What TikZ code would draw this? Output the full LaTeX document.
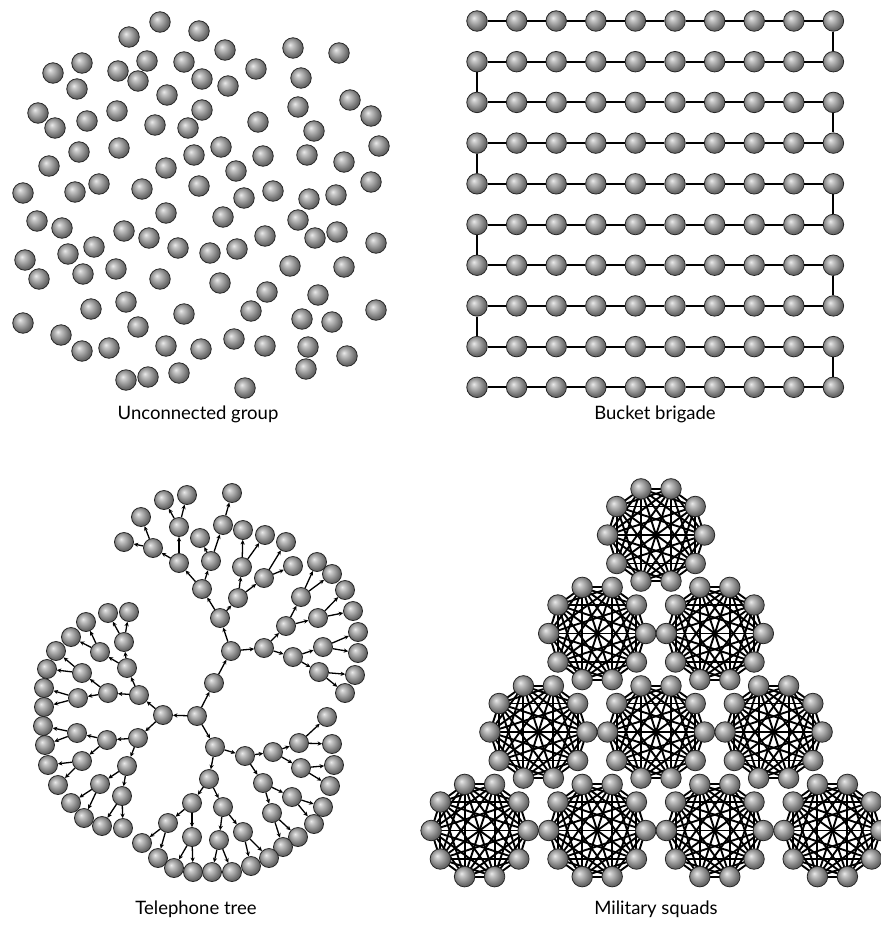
\documentclass[tikz,border=0pt]{standalone}
\usepackage{fontspec}
\setmainfont{Lato}
\usepackage{tikz}
\usetikzlibrary{arrows.meta, backgrounds}

\pgfdeclareradialshading{sphere}{\pgfpoint{-8bp}{8bp}}{%
    color(0bp)=(black!8); color(6bp)=(black!22); color(15bp)=(black!40);
    color(25bp)=(black!60); color(50bp)=(black!60)}

\begin{document}
\begin{tikzpicture}[
        x=1pt, y=-1pt,
        ball/.style={
            circle,
            draw=black!85,
            line width=0.8pt,
            inner sep=0pt,
            minimum size=20.5pt,
            shading=sphere
        },
        smallball/.style={
            ball,
            minimum size=19pt
        },
        chain/.style={
            line width=2pt
        },
        call/.style={
            -{Stealth[length=4.5pt, width=4.2pt]},
            line width=1.3pt
        },
        squadlink/.style={
            line width=1.9pt
        },
        caption/.style={
            anchor=base,
            font=\fontsize{18.5}{22}\selectfont
        }
    ]

    \useasboundingbox (0,0) rectangle (881,930);

    % unconnected group
    \foreach \x/\y [count=\i] in {
        160/22, 199/31, 129/37, 225/50, 293/48, 339/53, 82/63, 147/61, 184/62, 53/73,
        118/71, 138/81, 202/79, 228/86, 256/69, 301/78, 77/89, 167/95, 350/100, 38/113,
        371/116, 117/111, 202/110, 298/107, 55/128, 87/121, 155/125, 188/128, 258/122, 314/131,
        79/152, 119/148, 221/147, 194/155, 263/156, 307/155, 379/146, 49/166, 166/168, 236/171,
        344/162, 23/193, 75/192, 99/184, 142/189, 199/186, 244/198, 273/191, 309/199, 336/195,
        371/182, 37/221, 62/228, 166/213, 223/217, 298/220, 124/231, 149/238, 315/238, 337/232,
        376/243, 25/260, 68/254, 94/247, 178/248, 210/253, 237/249, 265/236, 39/279, 83/274,
        116/269, 160/279, 220/283, 290/266, 344/267, 267/292, 318/295, 91/309, 126/302, 184/314,
        251/311, 302/319, 332/322, 376/310, 23/323, 61/335, 138/327, 82/351, 109/348, 166/346,
        201/349, 234/339, 265/346, 308/347, 347/356, 126/380, 148/377, 179/373, 245/388, 306/369}
        \node[ball] (u\i) at (\x,\y) {};

    \node[caption] (ucap) at (198,419) {Unconnected group};

    % bucket brigade
    \foreach \row in {0,...,9}
        \foreach \col in {0,...,9}
            \node[ball] (b\row-\col) at (477+39.6*\col, 21+40.7*\row) {};
    \foreach \row in {0,...,9} {
        \foreach \col in {0,...,8} {
            \pgfmathtruncatemacro\nxt{\col+1}
            \draw[chain] (b\row-\col) -- (b\row-\nxt);
        }
    }
    \foreach \row in {0,...,8} {
        \pgfmathtruncatemacro\nxt{\row+1}
        \pgfmathtruncatemacro\side{mod(\row,2)==0 ? 9 : 0}
        \draw[chain] (b\row-\side) -- (b\nxt-\side);
    }

    \node[caption] (bcap) at (655,419) {Bucket brigade};

    % telephone tree
    \node[smallball] (R) at (197,716) {};
    \foreach \n/\x/\y/\p in {
        A/163/715/R, B/214/683/R, C/215/747/R,
        a1/139/695/A, a2/138/738/A,
        a11/127/668/a1, a12/108/693/a1,
        a111/124/642/a11, a112/100/652/a11,
        a1111/108/613/a111, a1112/129/612/a111,
        a1121/86/622/a112, a1122/71/637/a112,
        a121/82/673/a12, a122/78/698/a12,
        a1211/56/651/a121, a1212/47/669/a121,
        a1221/44/688/a122, a1222/44/707/a122,
        a21/107/740/a2, a22/127/766/a2,
        a211/77/733/a21, a212/82/761/a21,
        a2111/43/726/a211, a2112/45/745/a211,
        a2121/48/765/a212, a2122/58/785/a212,
        a221/100/784/a22, a222/122/796/a22,
        a2211/71/803/a221, a2212/84/818/a221,
        a2221/102/826/a222, a2222/123/828/a222,
        b1/231/651/B,
        b11/220/618/b1, b12/264/648/b1,
        b111/202/589/b11, b112/238/598/b11,
        b1111/179/563/b111, b1112/211/561/b111,
        b11111/153/548/b1111, b11112/179/527/b1111,
        b111111/124/542/b11111, b111112/141/517/b11111,
        b111121/164/500/b11112, b111122/187/495/b11112,
        b11121/200/538/b1112, b11122/223/525/b1112,
        b111221/232/493/b11122,
        b1121/242/567/b112, b1122/264/578/b112,
        b11211/243/530/b1121, b11212/265/535/b1121,
        b11221/286/542/b1122, b11222/293/566/b1122,
        b121/286/626/b12, b122/293/657/b12,
        b1211/301/597/b121, b1212/318/618/b121,
        b12111/317/562/b1211, b12112/332/574/b1211,
        b12121/345/590/b1212, b12122/353/611/b1212,
        b1221/323/647/b122, b1222/319/672/b122,
        b12211/358/632/b1221, b12212/358/653/b1221,
        b12221/355/675/b1222, b12222/345/693/b1222,
        c1/245/756/C, c2/209/779/C,
        c11/273/752/c1, c12/263/783/c1,
        c111/299/743/c11, c112/301/768/c11,
        c1111/327/717/c111, c1112/332/744/c111,
        c1121/334/765/c112, c1122/330/786/c112,
        c121/292/797/c12, c122/272/813/c12,
        c1211/323/807/c121, c1212/314/824/c121,
        c1221/298/837/c122, c1222/283/847/c122,
        c21/192/803/c2, c22/223/807/c2,
        c211/168/823/c21, c212/192/837/c21,
        c2111/142/843/c211, c2112/158/858/c211,
        c2121/174/868/c212, c2122/193/872/c212,
        c221/219/840/c22, c222/243/832/c22,
        c2211/212/872/c221, c2212/232/872/c221,
        c2221/251/866/c222, c2222/269/858/c222}
    {
        \node[smallball] (\n) at (\x,\y) {};
        \draw[call] (\p) -- (\n);
    }

    \node[caption] (tcap) at (196,914) {Telephone tree};

    % military squads
    \foreach \r in {0,...,3}
        \foreach \k in {0,...,\r} {
            \pgfmathsetmacro\cx{656+(\k-\r/2)*117.6}
            \pgfmathsetmacro\cy{535+\r*98.5}
            \foreach \a in {0,...,9}
                \node[ball] (sq\r\k-\a) at ([shift={(\a*36:48.5)}]\cx,\cy) {};
            \begin{pgfonlayer}{background}
                \foreach \a in {0,...,8} {
                    \pgfmathtruncatemacro\na{\a+1}
                    \foreach \b in {\na,...,9}
                        \draw[squadlink] (sq\r\k-\a.center) -- (sq\r\k-\b.center);
                }
            \end{pgfonlayer}
        }

    \node[caption] (mcap) at (656,914) {Military squads};

\end{tikzpicture}
\end{document}
